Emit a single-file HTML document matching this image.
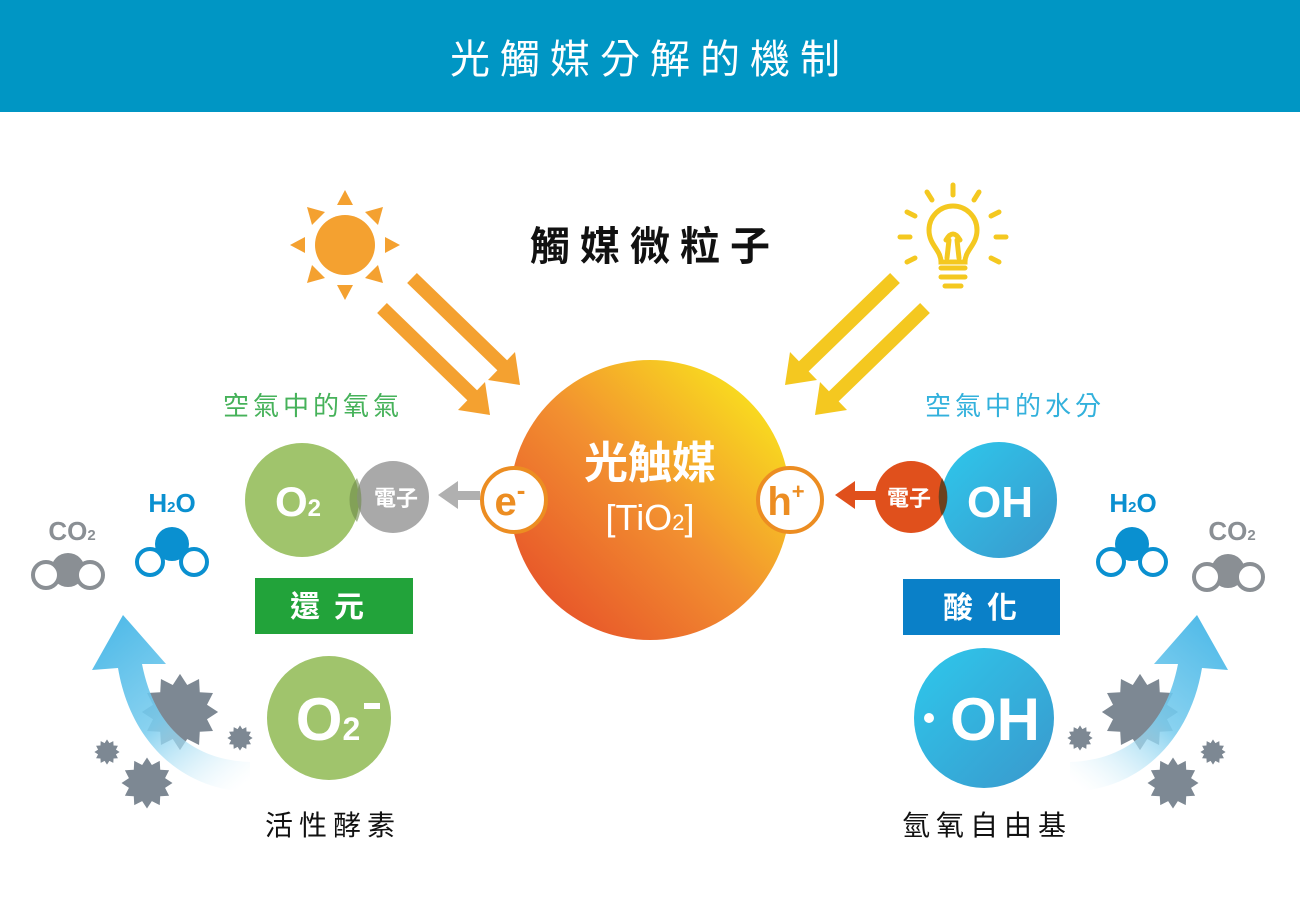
<!DOCTYPE html>
<html><head><meta charset="utf-8">
<style>
html,body{margin:0;padding:0;background:#fff;width:1300px;height:905px;overflow:hidden}
svg{display:block}
text{font-family:"Liberation Sans","Noto Sans CJK TC",sans-serif}
</style></head><body>
<svg width="1300" height="905" viewBox="0 0 1300 905" xmlns="http://www.w3.org/2000/svg">
<defs>
<linearGradient id="big" x1="0.15" y1="0.85" x2="0.85" y2="0.15">
<stop offset="0" stop-color="#e85a2a"/><stop offset="0.5" stop-color="#f29030"/><stop offset="1" stop-color="#f8d820"/>
</linearGradient>
<linearGradient id="blue" x1="0" y1="0" x2="1" y2="1">
<stop offset="0" stop-color="#2ec8ec"/><stop offset="1" stop-color="#3a98cc"/>
</linearGradient>
<linearGradient id="arr" gradientUnits="userSpaceOnUse" x1="120" y1="620" x2="250" y2="780">
<stop offset="0" stop-color="#40b4e6"/><stop offset="0.5" stop-color="#7ccdee"/><stop offset="1" stop-color="#ffffff" stop-opacity="0.3"/>
</linearGradient>
<polygon id="star" fill="#7d8893" points="30,0 21.25,5.69 25.98,15 15.56,15.56 15,25.98 5.69,21.25 0,30 -5.69,21.25 -15,25.98 -15.56,15.56 -25.98,15 -21.25,5.69 -30,0 -21.25,-5.69 -25.98,-15 -15.56,-15.56 -15,-25.98 -5.69,-21.25 0,-30 5.69,-21.25 15,-25.98 15.56,-15.56 25.98,-15 21.25,-5.69"/>
<g id="deco">
<use href="#star" transform="translate(180,712) scale(1.27)"/>
<use href="#star" transform="translate(107,752) scale(0.42)"/>
<use href="#star" transform="translate(240,738) scale(0.42)"/>
<use href="#star" transform="translate(147,783) scale(0.85)"/>
<path d="M250,792 C180,790 130,740 118,668 L92,670 L123,615 L166,664 L142,664 C155,730 195,760 250,762 Z" fill="url(#arr)" opacity="0.9"/>
</g>
</defs>

<rect x="0" y="0" width="1300" height="112" fill="#0096c4"/>
<text x="650" y="73" text-anchor="middle" font-size="40" fill="#fff" letter-spacing="10">光觸媒分解的機制</text>

<text x="655" y="260" text-anchor="middle" font-size="40" font-weight="bold" fill="#111" letter-spacing="10">觸媒微粒子</text>

<!-- sun -->
<g fill="#f4a130">
<circle cx="345" cy="245" r="30"/>
<polygon points="345,190 337,205 353,205"/><polygon points="345,300 337,285 353,285"/>
<polygon points="290,245 305,237 305,253"/><polygon points="400,245 385,237 385,253"/>
<polygon points="307,207 325,212 312,225"/><polygon points="383,207 365,212 378,225"/>
<polygon points="307,283 325,278 312,265"/><polygon points="383,283 365,278 378,265"/>
</g>
<g stroke="#f4a130" stroke-width="14">
<line x1="412" y1="278" x2="505" y2="368"/><line x1="382" y1="308" x2="475" y2="398"/>
</g>
<g fill="#f4a130">
<polygon points="520,385 488,380 515,352"/><polygon points="490,415 458,410 485,382"/>
</g>

<!-- bulb -->
<g stroke="#f4c820" stroke-width="5" fill="none" stroke-linecap="round">
<path d="M941,262 C941,250 929,245 929,230 A24,24 0 0 1 977,230 C977,245 965,250 965,262 Z"/>
<path d="M947,258 L949,240 M959,258 L957,240 M946,240 Q953,228 960,240"/>
<line x1="941" y1="268" x2="965" y2="268"/><line x1="941" y1="277" x2="965" y2="277"/><line x1="945" y1="286" x2="961" y2="286"/>
<line x1="953" y1="185" x2="953" y2="195"/>
<line x1="927" y1="192" x2="932" y2="200"/><line x1="979" y1="192" x2="974" y2="200"/>
<line x1="907" y1="212" x2="915" y2="216"/><line x1="999" y1="212" x2="991" y2="216"/>
<line x1="900" y1="237" x2="910" y2="237"/><line x1="1006" y1="237" x2="996" y2="237"/>
<line x1="907" y1="262" x2="915" y2="258"/><line x1="999" y1="262" x2="991" y2="258"/>
</g>
<g stroke="#f4c820" stroke-width="14">
<line x1="895" y1="278" x2="800" y2="370"/><line x1="925" y1="308" x2="830" y2="400"/>
</g>
<g fill="#f4c820">
<polygon points="785,385 817,380 790,352"/><polygon points="815,415 847,410 820,382"/>
</g>

<!-- big circle -->
<circle cx="650" cy="500" r="140" fill="url(#big)"/>
<text x="650" y="478" text-anchor="middle" font-size="44" font-weight="bold" fill="#fff">光触媒</text>
<text x="650" y="530" text-anchor="middle" font-size="36" fill="#fff">[TiO<tspan font-size="22">2</tspan>]</text>
<circle cx="514" cy="500" r="32" fill="#fff" stroke="#ec8d22" stroke-width="4"/>
<text x="510" y="515" text-anchor="middle" font-size="40" font-weight="bold" fill="#ec8d22">e<tspan font-size="26" dy="-16">-</tspan></text>
<circle cx="790" cy="500" r="32" fill="#fff" stroke="#ec8d22" stroke-width="4"/>
<text x="786" y="515" text-anchor="middle" font-size="40" font-weight="bold" fill="#ec8d22">h<tspan font-size="22" dy="-16">+</tspan></text>

<!-- gray arrow -->
<rect x="455" y="491" width="25" height="9" fill="#b0b0b0"/>
<polygon points="438,495 458,481 458,509" fill="#b0b0b0"/>
<!-- red arrow -->
<rect x="852" y="491" width="26" height="9" fill="#e0501c"/>
<polygon points="835,495 855,481 855,509" fill="#e0501c"/>

<!-- left -->
<text x="313" y="415" text-anchor="middle" font-size="26" fill="#46b25a" letter-spacing="4">空氣中的氧氣</text>
<circle cx="302" cy="500" r="57" fill="#a0c46c"/>
<circle cx="393" cy="497" r="36" fill="#a9a9a9"/>
<path d="M357,478 A57,57 0 0 1 357,522 A36,36 0 0 1 357,478Z" fill="#6e8a4a" opacity="0.6"/>
<text x="298" y="516" text-anchor="middle" font-size="42" font-weight="bold" fill="#fff">O<tspan font-size="24">2</tspan></text>
<text x="396" y="506" text-anchor="middle" font-size="22" font-weight="bold" fill="#fff">電子</text>
<rect x="255" y="578" width="158" height="56" fill="#22a33a"/>
<text x="334" y="617" text-anchor="middle" font-size="30" font-weight="bold" fill="#fff" letter-spacing="14">還元</text>
<circle cx="329" cy="718" r="62" fill="#a0c46c"/>
<text x="328" y="740" text-anchor="middle" font-size="60" font-weight="bold" fill="#fff">O<tspan font-size="32">2</tspan></text>
<rect x="364" y="703" width="16" height="6" fill="#fff"/>
<text x="333" y="835" text-anchor="middle" font-size="28" fill="#111" letter-spacing="6">活性酵素</text>

<!-- right -->
<text x="1015" y="415" text-anchor="middle" font-size="26" fill="#33b1dc" letter-spacing="4">空氣中的水分</text>
<circle cx="999" cy="500" r="58" fill="url(#blue)"/>
<circle cx="911" cy="497" r="36" fill="#e0501c"/>
<path d="M942,478 A36,36 0 0 1 942,516 A58,58 0 0 1 942,478Z" fill="#3a3a20" opacity="0.7"/>
<text x="909" y="506" text-anchor="middle" font-size="22" font-weight="bold" fill="#fff">電子</text>
<text x="1000" y="517" text-anchor="middle" font-size="44" font-weight="bold" fill="#fff">OH</text>
<rect x="903" y="579" width="157" height="56" fill="#0a80c8"/>
<text x="987" y="618" text-anchor="middle" font-size="30" font-weight="bold" fill="#fff" letter-spacing="14">酸化</text>
<circle cx="984" cy="718" r="70" fill="url(#blue)"/>
<circle cx="929" cy="718" r="5" fill="#fff"/>
<text x="995" y="740" text-anchor="middle" font-size="60" font-weight="bold" fill="#fff">OH</text>
<text x="987" y="835" text-anchor="middle" font-size="28" fill="#111" letter-spacing="6">氫氧自由基</text>

<!-- decorations -->
<use href="#deco"/>
<use href="#deco" transform="translate(1320,0) scale(-1,1)"/>

<!-- molecules left -->
<text x="72" y="540" text-anchor="middle" font-size="26" font-weight="bold" fill="#8a8f94">CO<tspan font-size="15">2</tspan></text>
<circle cx="68" cy="570" r="17" fill="#8a8f94"/>
<circle cx="46" cy="575" r="13" fill="#fff" stroke="#8a8f94" stroke-width="4"/>
<circle cx="90" cy="575" r="13" fill="#fff" stroke="#8a8f94" stroke-width="4"/>
<text x="172" y="512" text-anchor="middle" font-size="26" font-weight="bold" fill="#0a90d0">H<tspan font-size="15">2</tspan>O</text>
<circle cx="172" cy="544" r="17" fill="#0a90d0"/>
<circle cx="150" cy="562" r="13" fill="#fff" stroke="#0a90d0" stroke-width="4"/>
<circle cx="194" cy="562" r="13" fill="#fff" stroke="#0a90d0" stroke-width="4"/>

<!-- molecules right -->
<text x="1133" y="512" text-anchor="middle" font-size="26" font-weight="bold" fill="#0a90d0">H<tspan font-size="15">2</tspan>O</text>
<circle cx="1132" cy="544" r="17" fill="#0a90d0"/>
<circle cx="1111" cy="562" r="13" fill="#fff" stroke="#0a90d0" stroke-width="4"/>
<circle cx="1153" cy="562" r="13" fill="#fff" stroke="#0a90d0" stroke-width="4"/>
<text x="1232" y="540" text-anchor="middle" font-size="26" font-weight="bold" fill="#8a8f94">CO<tspan font-size="15">2</tspan></text>
<circle cx="1228" cy="571" r="17" fill="#8a8f94"/>
<circle cx="1207" cy="577" r="13" fill="#fff" stroke="#8a8f94" stroke-width="4"/>
<circle cx="1250" cy="577" r="13" fill="#fff" stroke="#8a8f94" stroke-width="4"/>
</svg>
</body></html>
